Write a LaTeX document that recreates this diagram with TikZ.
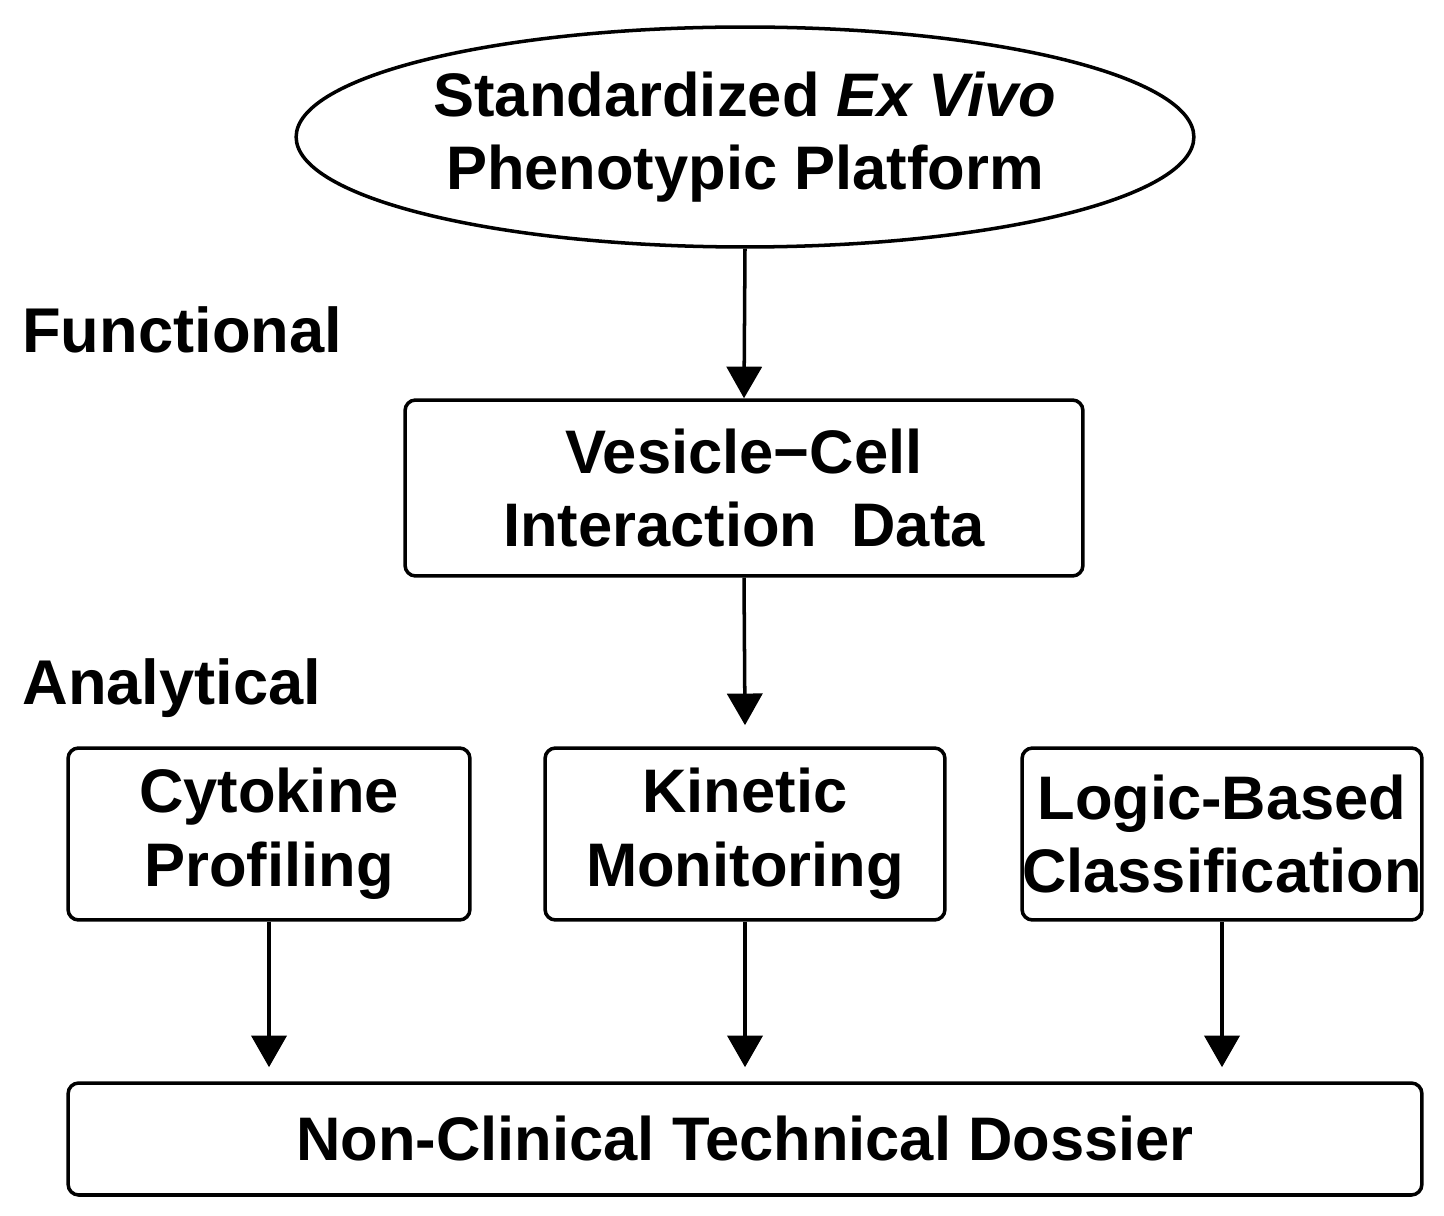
\documentclass[tikz,border=0pt]{standalone}
\usepackage{fontspec}
\setmainfont{Liberation Sans}
\usetikzlibrary{shapes.geometric,arrows.meta}
\begin{document}
\begin{tikzpicture}[x=0.02cm,y=-0.02cm,
  txt/.style={font=\fontsize{35}{42}\selectfont\bfseries, align=center},
  box/.style={draw, line width=2pt, rounded corners=6pt, inner sep=0pt},
  arr/.style={line width=2pt, -{Triangle[width=20pt,length=18pt]}},
  lbl/.style={font=\fontsize{36}{42}\selectfont\bfseries, anchor=west, inner sep=0pt}]
\useasboundingbox (0,0) rectangle (1444,1216);
\node[draw, ellipse, line width=2pt, minimum width=16.8cm, minimum height=4.4cm, txt] (top) at (745,137) {Standardized \textit{Ex Vivo}\\Phenotypic Platform};
\node[lbl] (f) at (22,330) {Functional};
\node[box, minimum width=13.56cm, minimum height=3.52cm, txt] (v) at (744,488) {Vesicle\textminus Cell\\Interaction\ \ Data};
\node[lbl] (a) at (22,688) {Analytical};
\node[box, minimum width=8.04cm, minimum height=3.44cm, txt] (c) at (269,834) {Cytokine\\Profiling};
\node[box, minimum width=8.0cm, minimum height=3.44cm, txt] (k) at (745,834) {Kinetic\\Monitoring};
\node[box, minimum width=8.0cm, minimum height=3.44cm, txt] (l) at (1222,834) {Logic-Based\\Classification};
\node[box, minimum width=27.08cm, minimum height=2.24cm, txt] (d) at (745,1139) {Non-Clinical Technical Dossier};
\draw[arr] (top.south) -- (v.north);
\draw[arr] (v.south) -- ([yshift=12pt]k.north);
\draw[arr] (c.south) -- ([yshift=8pt]d.north -| c.south);
\draw[arr] (k.south) -- ([yshift=8pt]d.north -| k.south);
\draw[arr] (l.south) -- ([yshift=8pt]d.north -| l.south);
\end{tikzpicture}
\end{document}
